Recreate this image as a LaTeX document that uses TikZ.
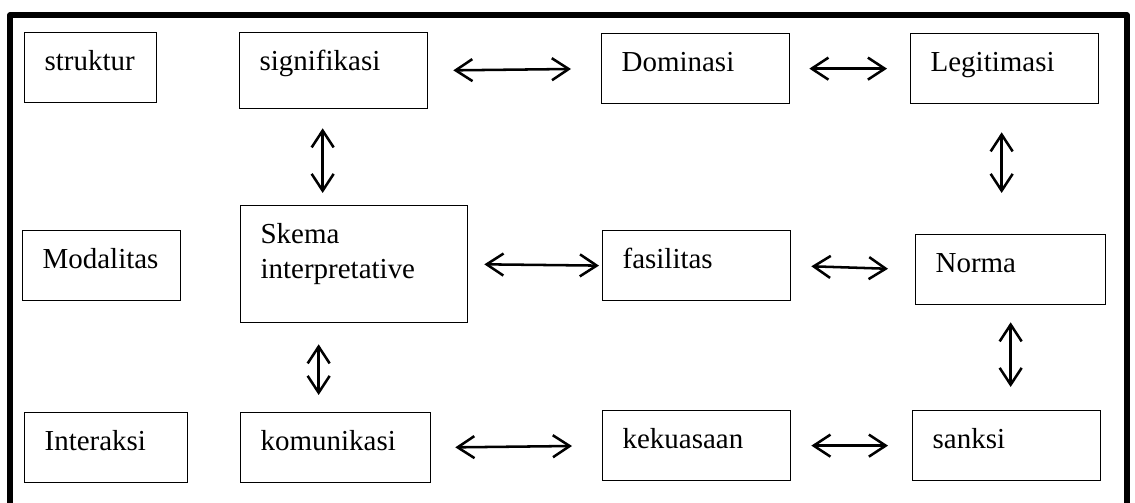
\documentclass[tikz,border=0pt]{standalone}
\usepackage{fontspec}
\setmainfont{Liberation Serif}
\usepackage{tikz}
\usetikzlibrary{positioning, calc, arrows.meta}
\definecolor{skInk}{RGB}{0, 0, 0}
\tikzset{
    base/.style={
        font=\fontsize{20.6}{24.9}\selectfont,
        align=left
    },
    cell/.style={
        base,
        rectangle,
        draw=skInk,
        line width=0.9pt,
        anchor=north west,
        inner xsep=0.5cm,
        inner ysep=0pt,
        text height=0.5cm,
        text depth=0.35cm,
        minimum height=1.75cm,
        text=skInk
    },
    flow/.style={
        {Straight Barb[length=0.42cm, width=0.55cm]}-{Straight Barb[length=0.42cm, width=0.55cm]},
        line width=1.8pt,
        color=skInk
    },
    frame/.style={
        line width=3.6pt,
        line join=round,
        color=skInk
    }
}
\begin{document}
\begin{tikzpicture}[x=0.025cm, y=-0.025cm]
  \useasboundingbox (0,0) rectangle (1135,503);

  % Outer frame (open at the bottom)
  \draw[frame] (10,530) -- (10,15) -- (1127,15) -- (1127,530);

  % Row 1: struktur
  \node[cell, text width=2.3cm] (str) at (24,32) {struktur};
  \node[cell, text width=3.7cm, minimum height=1.9cm, text depth=0.5cm] (sig) at (239,32) {signifikasi};
  \node[cell, text width=3.7cm] (dom) at (601,33) {Dominasi};
  \node[cell, text width=3.7cm] (leg) at (910,33) {Legitimasi};

  % Row 2: modalitas
  \node[cell, text width=2.95cm] (mod) at (22,230) {Modalitas};
  \node[cell, text width=4.675cm, minimum height=2.925cm, text depth=1.525cm] (ske) at (240,205) {Skema\\interpretative};
  \node[cell, text width=3.7cm] (fas) at (602,230) {fasilitas};
  \node[cell, text width=3.75cm] (nor) at (915,234) {Norma};

  % Row 3: interaksi
  \node[cell, text width=3.075cm] (int) at (24,412) {Interaksi};
  \node[cell, text width=3.75cm] (kom) at (240,412) {komunikasi};
  \node[cell, text width=3.7cm] (kek) at (602,410) {kekuasaan};
  \node[cell, text width=3.7cm] (san) at (912,410) {sanksi};

  % Links along the rows
  \draw[flow, shorten <=0.625cm, shorten >=0.75cm] (sig.east) -- (dom.west);
  \draw[flow, shorten <=0.475cm, shorten >=0.575cm] (dom.east) -- (leg.west);
  \draw[flow, shorten <=0.4cm, shorten >=0.075cm] (ske.east) -- (fas.west);
  \draw[flow, shorten <=0.5cm, shorten >=0.675cm] (fas.east) -- (nor.west);
  \draw[flow, shorten <=0.6cm, shorten >=0.75cm] (kom.east) -- (kek.west);
  \draw[flow, shorten <=0.5cm, shorten >=0.6cm] (kek.east) -- (san.west);

  % Links down the columns
  \draw[flow, shorten <=0.475cm, shorten >=0.3cm] ([xshift=-0.275cm]sig.south) -- ([xshift=-0.275cm]sig.south |- ske.north);
  \draw[flow, shorten <=0.525cm, shorten >=0.425cm] ([xshift=-0.425cm]kom.north |- ske.south) -- ([xshift=-0.425cm]kom.north);
  \draw[flow, shorten <=0.7cm, shorten >=1.025cm] ([xshift=-0.075cm]leg.south) -- ([xshift=-0.075cm]leg.south |- nor.north);
  \draw[flow, shorten <=0.425cm, shorten >=0.575cm] (nor.south) -- (nor.south |- san.north);

\end{tikzpicture}
\end{document}
